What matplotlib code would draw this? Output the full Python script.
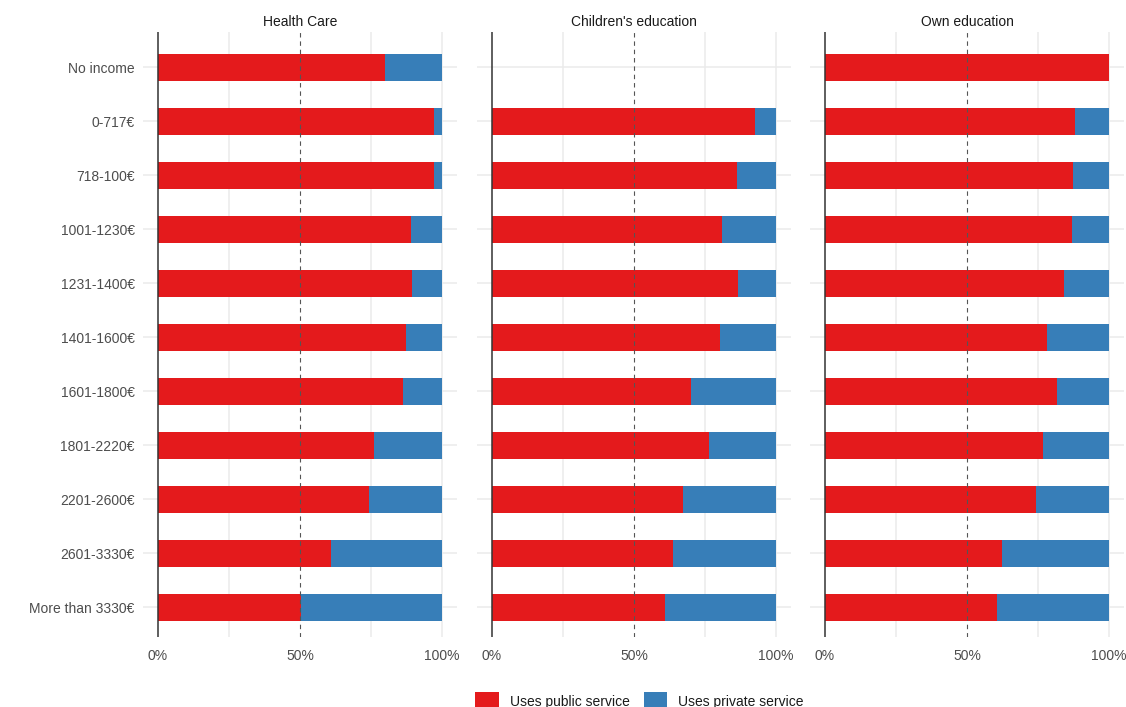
import matplotlib.pyplot as plt
from matplotlib.patches import Patch

plt.rcParams['font.family'] = ['Liberation Sans', 'DejaVu Sans']

# Income brackets, top to bottom
income = ['No income', '0-717€', '718-100€', '1001-1230€', '1231-1400€',
          '1401-1600€', '1601-1800€', '1801-2220€', '2201-2600€',
          '2601-3330€', 'More than 3330€']

panels = ['Health Care', "Children's education", 'Own education']

# Share using the public service (rest uses private service)
health_public = [0.80, 0.972, 0.972, 0.891, 0.894, 0.873, 0.863, 0.761, 0.743, 0.609, 0.504]
children_public = [None, 0.926, 0.863, 0.810, 0.866, 0.803, 0.701, 0.764, 0.673, 0.637, 0.609]
own_public = [1.0, 0.880, 0.873, 0.870, 0.842, 0.782, 0.817, 0.768, 0.743, 0.623, 0.606]

public_by_panel = [health_public, children_public, own_public]

red = '#E41A1C'
blue = '#377EB8'
grid_col = '#ebebeb'
text_col = '#4d4d4d'

fig = plt.figure(figsize=(11.26, 7.07), dpi=100)

lefts = [143, 477, 810]
bottom = 1 - 637 / 707
height = (637 - 32) / 707
width = 314 / 1126

ypos = list(range(len(income)))

for i, (title, public) in enumerate(zip(panels, public_by_panel)):
    ax = fig.add_axes([lefts[i] / 1126, bottom, width, height])
    ax.set_xlim(-0.053, 1.053)
    ax.set_ylim(len(income) - 0.45, -0.65)

    # grid
    for y in ypos:
        ax.axhline(y, color=grid_col, lw=1.1, zorder=0)
    for x in [0.25, 0.75, 1.0]:
        ax.axvline(x, color=grid_col, lw=1.1, zorder=0)

    for y, p in zip(ypos, public):
        if p is None:
            continue
        ax.barh(y, p, height=0.5, color=red, zorder=2)
        ax.barh(y, 1 - p, left=p, height=0.5, color=blue, zorder=2)

    ax.axvline(0, color='#333333', lw=1.1, zorder=3)
    ax.axvline(0.5, color='#555555', lw=0.8, ls=(0, (4, 3.5)), zorder=3)

    for s in ax.spines.values():
        s.set_visible(False)
    ax.set_xticks([0, 0.5, 1.0])
    ax.set_xticklabels(['0%', '50%', '100%'])
    ax.tick_params(axis='both', length=0, labelsize=10, colors=text_col, pad=9)
    if i == 0:
        ax.set_yticks(ypos)
        ax.set_yticklabels(income)
        ax.tick_params(axis='y', pad=6)
    else:
        ax.set_yticks([])
    ax.set_title(title, fontsize=10, color='#1a1a1a', pad=4)

handles = [Patch(facecolor=red, label='Uses public service'),
           Patch(facecolor=blue, label='Uses private service')]
fig.legend(handles=handles, loc='center', bbox_to_anchor=(0.568, 0.008), ncol=2,
           frameon=False, fontsize=10, handlelength=1.7, handleheight=1.7,
           handletextpad=0.8, columnspacing=1.0, labelcolor='#1a1a1a')

fig.savefig('out.png', dpi=100)
